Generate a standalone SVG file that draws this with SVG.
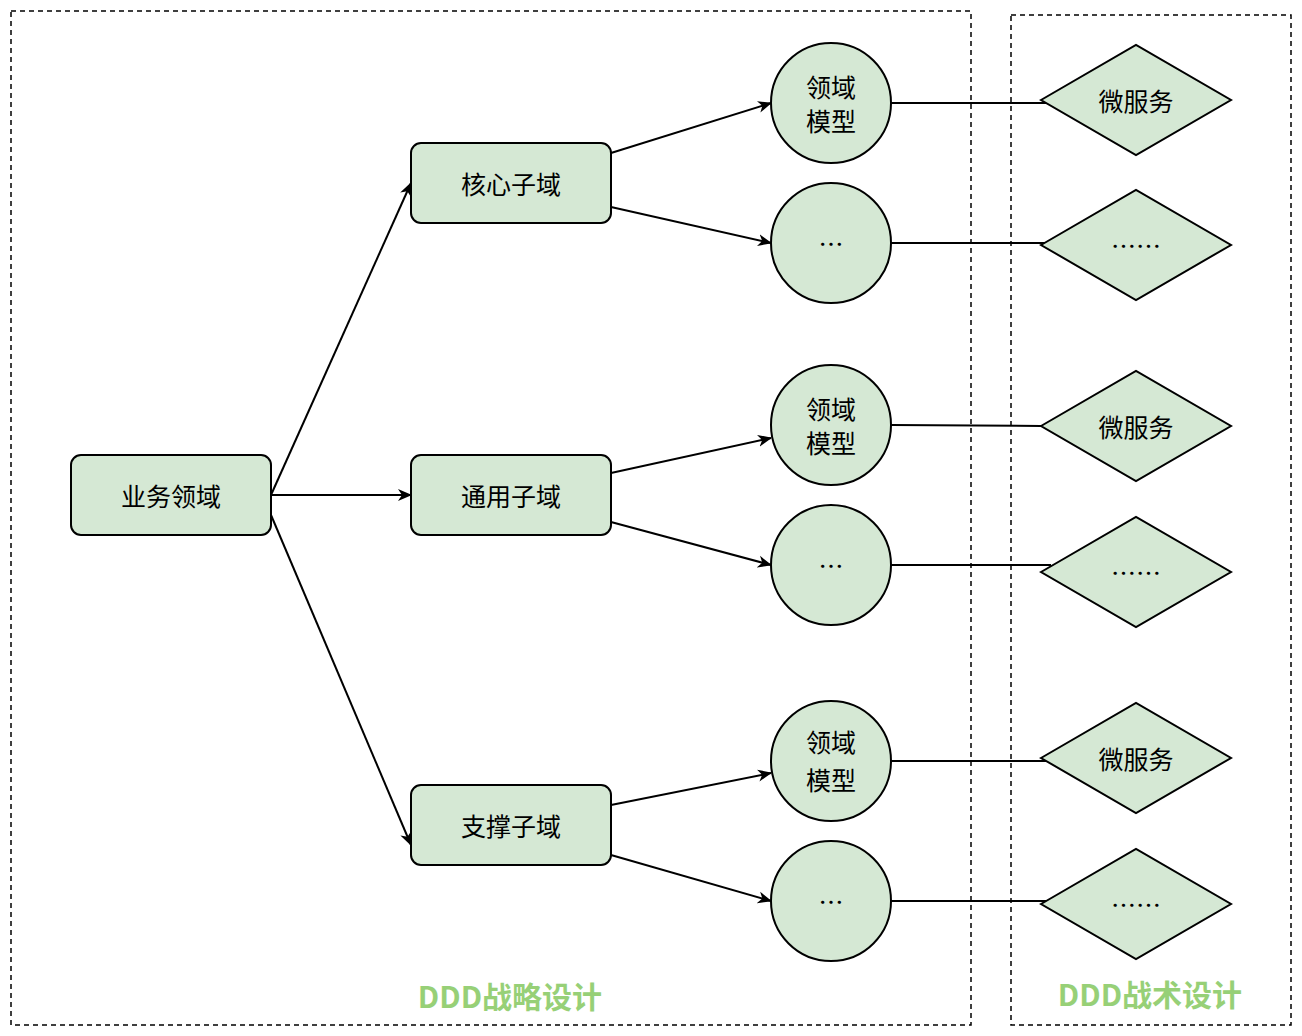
<svg xmlns="http://www.w3.org/2000/svg" width="1302" height="1036" viewBox="0 0 1302 1036">
<defs>
<style>
.n{fill:#d5e8d4;stroke:#000;stroke-width:2}
.t{font-family:"Noto Sans CJK SC","Liberation Sans",sans-serif;font-size:25px;fill:#000;text-anchor:middle;dominant-baseline:central}
.c{stroke:#000;stroke-width:2;fill:none}
.a{marker-end:url(#ah)}
.box{fill:none;stroke:#000;stroke-width:1.5;stroke-dasharray:5 4}
.lbl{font-family:"Noto Sans CJK SC","Liberation Sans",sans-serif;font-size:30px;font-weight:bold;fill:#97d077;text-anchor:middle;dominant-baseline:central}
</style>
<marker id="ah" markerWidth="14" markerHeight="14" refX="13" refY="7" orient="auto" markerUnits="userSpaceOnUse"><path d="M0,1 L14,7 L0,13 L4,7 Z" fill="#000"/></marker>
</defs>
<rect width="1302" height="1036" fill="#fff"/>
<g id="frames">
<rect class="box" x="11" y="11" width="960" height="1014"/>
<rect class="box" x="1011" y="15" width="280" height="1010"/>
<text class="lbl" x="510" y="995">DDD战略设计</text>
<text class="lbl" x="1150" y="993">DDD战术设计</text>
</g>
<g id="connectors">
<path class="c a" d="M271,495 L411,183"/>
<path class="c a" d="M271,495 L411,495"/>
<path class="c a" d="M271,515 L411,845"/>
<path class="c a" d="M611,153 L771,103"/>
<path class="c a" d="M611,207 L771,243"/>
<path class="c a" d="M611,473 L771,438"/>
<path class="c a" d="M611,522 L771,565"/>
<path class="c a" d="M611,805 L771,773"/>
<path class="c a" d="M611,855 L771,901"/>
<path class="c" d="M891,103 H1051"/>
<path class="c" d="M891,243 H1051"/>
<path class="c" d="M891,425 L1041,426"/>
<path class="c" d="M891,565 H1051"/>
<path class="c" d="M891,761 H1051"/>
<path class="c" d="M891,901 H1051"/>
</g>
<g id="root"><rect class="n" x="71" y="455" width="200" height="80" rx="10"/><text class="t" x="171" y="495">业务领域</text></g>
<g id="core"><rect class="n" x="411" y="143" width="200" height="80" rx="10"/><text class="t" x="511" y="183">核心子域</text></g>
<g id="generic"><rect class="n" x="411" y="455" width="200" height="80" rx="10"/><text class="t" x="511" y="495">通用子域</text></g>
<g id="support"><rect class="n" x="411" y="785" width="200" height="80" rx="10"/><text class="t" x="511" y="825">支撑子域</text></g>
<g id="m1"><circle class="n" cx="831" cy="103" r="60"/><text class="t" x="831" y="86">领域</text><text class="t" x="831" y="120">模型</text></g>
<g id="e1"><circle class="n" cx="831" cy="243" r="60"/><text class="t" x="831" y="243">…</text></g>
<g id="m2"><circle class="n" cx="831" cy="425" r="60"/><text class="t" x="831" y="408">领域</text><text class="t" x="831" y="442">模型</text></g>
<g id="e2"><circle class="n" cx="831" cy="565" r="60"/><text class="t" x="831" y="565">…</text></g>
<g id="m3"><circle class="n" cx="831" cy="761" r="60"/><text class="t" x="831" y="741">领域</text><text class="t" x="831" y="779">模型</text></g>
<g id="e3"><circle class="n" cx="831" cy="901" r="60"/><text class="t" x="831" y="901">…</text></g>
<g id="s1"><polygon class="n" points="1041,100 1136,45 1231,100 1136,155"/><text class="t" x="1136" y="100">微服务</text></g>
<g id="s2"><polygon class="n" points="1041,245 1136,190 1231,245 1136,300"/><text class="t" x="1136" y="245">……</text></g>
<g id="s3"><polygon class="n" points="1041,426 1136,371 1231,426 1136,481"/><text class="t" x="1136" y="426">微服务</text></g>
<g id="s4"><polygon class="n" points="1041,572 1136,517 1231,572 1136,627"/><text class="t" x="1136" y="572">……</text></g>
<g id="s5"><polygon class="n" points="1041,758 1136,703 1231,758 1136,813"/><text class="t" x="1136" y="758">微服务</text></g>
<g id="s6"><polygon class="n" points="1041,904 1136,849 1231,904 1136,959"/><text class="t" x="1136" y="904">……</text></g>
</svg>
